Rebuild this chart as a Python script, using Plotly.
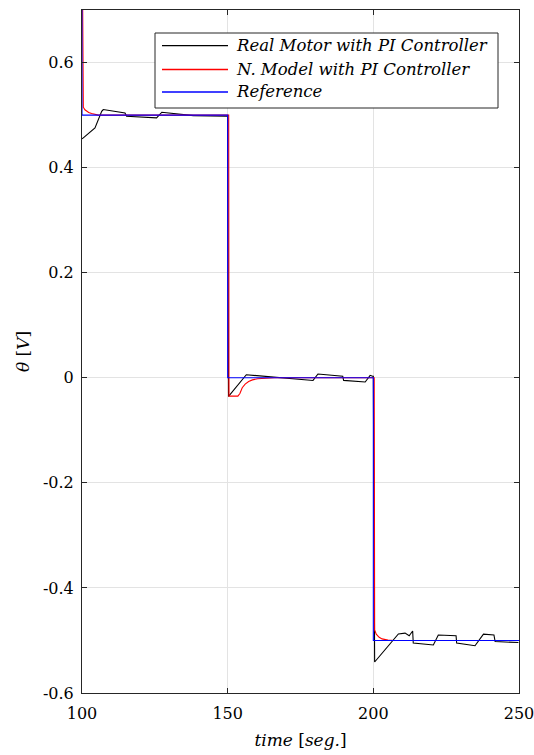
import plotly.graph_objects as go

# ---- data -------------------------------------------------------------
# Real motor response (PI controller)
t_motor = [100.0, 100.45, 104.46, 105.6, 106.76, 107.3, 114.76, 115.3, 125.6, 127.4,
           130.2, 138.2, 149.7, 150.0, 150.3, 156.4, 179.3, 181.0, 189.5, 189.8,
           197.2, 198.9, 199.75, 200.0, 200.45, 208.6, 210.9, 212.3, 213.5, 213.7,
           220.6, 222.3, 228.4, 228.6, 234.9, 237.8, 241.4, 241.8, 249.8]
v_motor = [0.455, 0.4566, 0.4756, 0.491, 0.507, 0.5105, 0.504, 0.4977, 0.4946, 0.5054,
           0.504, 0.499, 0.4977, 0.4975, -0.0355, 0.0057, -0.0051, 0.0072, 0.0028, -0.005,
           -0.008, 0.0046, 0.003, 0.003, -0.541, -0.4876, -0.486, -0.491, -0.482, -0.505,
           -0.5086, -0.4895, -0.491, -0.505, -0.510, -0.488, -0.4895, -0.502, -0.504]

# Neural model response (PI controller)
t_model = [100.0, 100.2, 100.45, 101.0, 101.6, 102.3, 103.3, 104.3, 105.6,
           150.35, 150.45, 153.5, 154.2, 155.0, 156.0, 157.2, 158.5, 160.3,
           163.0, 166.0, 200.3, 200.45, 201.0, 202.0, 203.0, 204.0, 205.0, 207.0, 250.0]
v_model = [0.9, 0.53, 0.515, 0.51, 0.507, 0.505, 0.503, 0.5015, 0.5,
           0.5, -0.035, -0.035, -0.03, -0.019, -0.012, -0.007, -0.004, -0.002,
           -0.0005, 0.0, 0.0, -0.48, -0.488, -0.494, -0.497, -0.4985, -0.4993, -0.5, -0.5]

# Reference signal
t_ref = [100.0, 100.0, 150.0, 150.0, 200.0, 200.0, 250.0]
v_ref = [0.9, 0.5, 0.5, 0.0, 0.0, -0.5, -0.5]

x_ticks = [100, 150, 200, 250]
x_tick_text = ["100", "150", "200", "250"]
y_ticks = [-0.6, -0.4, -0.2, 0.0, 0.2, 0.4, 0.6]
y_tick_text = ["-0.6", "-0.4", "-0.2", "0", "0.2", "0.4", "0.6"]

series_names = ["Real Motor with PI Controller", "N. Model with PI Controller", "Reference"]
series_colors = ["rgb(0,0,0)", "rgb(255,0,0)", "rgb(0,0,255)"]

# ---- figure -----------------------------------------------------------
W, H = 534, 755
L, R, T, B = 82, 15, 10, 62
SERIF = "DejaVu Serif"
AXIS_COLOR = "#262626"

fig = go.Figure()
for (tx, vy), name, col in zip([(t_motor, v_motor), (t_model, v_model), (t_ref, v_ref)],
                               series_names, series_colors):
    fig.add_trace(go.Scatter(x=tx, y=vy, mode="lines", name=name,
                             line=dict(color=col, width=1.1), showlegend=False))

axis_common = dict(
    showline=True, linecolor=AXIS_COLOR, linewidth=1, mirror="allticks",
    ticks="inside", ticklen=5, tickcolor=AXIS_COLOR, tickwidth=1,
    showgrid=True, gridcolor="#e3e3e3", gridwidth=1, zeroline=False,
    automargin=False, ticklabeloverflow="allow",
    tickfont=dict(family=SERIF, size=16, color="#000000"),
)

fig.update_xaxes(range=[100, 250], tickvals=x_ticks, ticktext=x_tick_text,
                 title=dict(text="<i>time</i> [<i>seg.</i>]", standoff=11,
                            font=dict(family=SERIF, size=17, color="#000000")),
                 ticklabelstandoff=6, **axis_common)
fig.update_yaxes(range=[-0.6, 0.7], tickvals=y_ticks, ticktext=y_tick_text,
                 title=dict(text="<i>θ</i> [<i>V</i>]", standoff=8,
                            font=dict(family=SERIF, size=17, color="#000000")),
                 ticklabelstandoff=4, **axis_common)

# ---- legend box drawn in pixel units of the plotting area -------------
pw, ph = W - L - R, H - T - B


def px(x):
    return (x - L) / pw


def py(y):
    return (H - B - y) / ph


box = dict(x0=155, x1=498, y0=33, y1=108)
fig.add_shape(type="rect", xref="paper", yref="paper",
              x0=px(box["x0"]), x1=px(box["x1"]), y0=py(box["y1"]), y1=py(box["y0"]),
              line=dict(color=AXIS_COLOR, width=1), fillcolor="white", layer="above")
rows = [45.7, 69.5, 92.0]
for yrow, name, col in zip(rows, series_names, series_colors):
    fig.add_shape(type="line", xref="paper", yref="paper",
                  x0=px(162), x1=px(228), y0=py(yrow), y1=py(yrow),
                  line=dict(color=col, width=1.3, dash="solid"), layer="above")
    fig.add_annotation(xref="paper", yref="paper", x=px(234), y=py(yrow),
                       xanchor="left", yanchor="middle", showarrow=False,
                       text=f"<i>{name}</i>",
                       font=dict(family=SERIF, size=16.5, color="#000000"))

fig.update_layout(width=W, height=H, margin=dict(l=L, r=R, t=T, b=B),
                  paper_bgcolor="white", plot_bgcolor="white", showlegend=False)

fig.write_html("out.html")
